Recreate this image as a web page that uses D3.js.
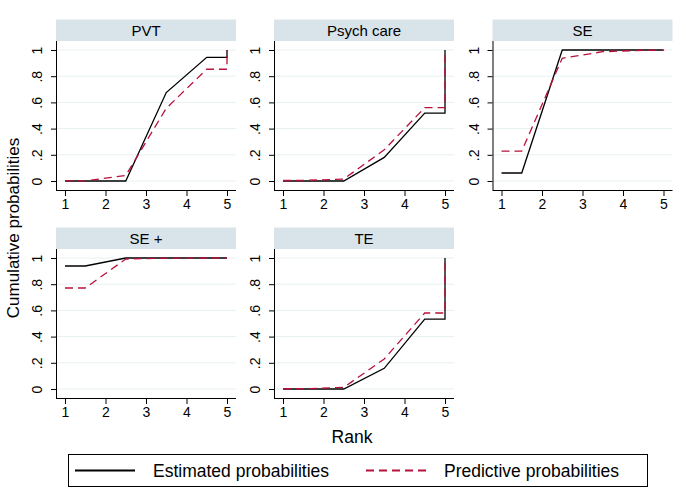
<!DOCTYPE html>
<html>
<head>
<meta charset="utf-8">
<script src="https://cdn.jsdelivr.net/npm/d3@7"></script>
<style>
  html, body { margin: 0; padding: 0; background: #fff; }
  svg { display: block; font-family: "Liberation Sans", Arial, sans-serif; }
</style>
</head>
<body>
<svg id="chart" width="686" height="504"></svg>
<script>
// ---- data ----
const treatments = ["PVT", "Psych care", "SE", "SE +", "TE"];
// cumulative probability P(rank <= k) for k = 1..4 (rank 5 is always 1)
const estimatedCum = [
  [0.00, 0.00, 0.675, 0.944],   // PVT
  [0.00, 0.00, 0.180, 0.518],   // Psych care
  [0.061, 1.00, 1.00, 1.00],    // SE
  [0.939, 1.00, 1.00, 1.00],    // SE +
  [0.00, 0.00, 0.158, 0.534]    // TE
];
const predictiveCum = [
  [0.001, 0.042, 0.555, 0.853],
  [0.004, 0.015, 0.238, 0.560],
  [0.228, 0.937, 0.987, 0.998],
  [0.771, 0.992, 0.999, 1.00],
  [0.002, 0.012, 0.229, 0.580]
];
const rankTicks = [1, 2, 3, 4, 5];
const probTicks = [0, 0.2, 0.4, 0.6, 0.8, 1];
const probTickLabels = ["0", ".2", ".4", ".6", ".8", "1"];
const seriesNames = ["Estimated probabilities", "Predictive probabilities"];
const seriesColors = ["#000000", "#b8103a"];
const seriesDash = [null, "8,5"];

// ---- layout ----
const svg = d3.select("#chart");
const colLeft = [56, 274, 492.5];
const rowTop = [19.5, 227.5];
const panelW = 180, headerH = 21.5, plotH = 149;
const pad = 9;

// build step path points from cumulative probs
function stepPoints(c) {
  return [
    [1, c[0]], [1.5, c[0]], [2.5, c[1]], [3.5, c[2]], [4.5, c[3]], [5, c[3]], [5, 1]
  ];
}

treatments.forEach((name, i) => {
  const col = i % 3, row = Math.floor(i / 3);
  const left = colLeft[col];
  const hTop = rowTop[row];
  const pTop = hTop + headerH;
  const pBot = pTop + plotH;
  const x = d3.scaleLinear().domain([1, 5]).range([left + pad, left + panelW - pad]);
  const y = d3.scaleLinear().domain([0, 1]).range([pBot - pad, pTop + pad]);

  const g = svg.append("g");

  // header strip
  g.append("rect").attr("x", left).attr("y", hTop).attr("width", panelW).attr("height", headerH)
    .attr("fill", "#d8e3ea");
  g.append("text").attr("x", left + panelW / 2).attr("y", hTop + headerH / 2 + 5.5)
    .attr("text-anchor", "middle").attr("font-size", 15).attr("fill", "#000").text(name);

  // gridlines
  g.append("g").selectAll("line").data(probTicks).join("line")
    .attr("x1", left).attr("x2", left + panelW)
    .attr("y1", d => y(d)).attr("y2", d => y(d))
    .attr("stroke", "#e8f0f2").attr("stroke-width", 1);

  // y axis
  const yAxis = d3.axisLeft(y).tickValues(probTicks).tickSize(5).tickPadding(4)
    .tickFormat((d, k) => probTickLabels[k]);
  const ya = g.append("g").attr("transform", `translate(${left},0)`).call(yAxis);
  ya.select(".domain").attr("d", `M0.5,${pTop}V${pBot}`).attr("stroke", "#000");
  ya.selectAll(".tick line").attr("stroke", "#000");
  ya.selectAll(".tick text")
    .attr("font-size", 14).attr("font-family", "Liberation Sans, Arial, sans-serif")
    .attr("fill", "#000")
    .attr("text-anchor", "middle").attr("dy", null)
    .attr("transform", "translate(-14,0) rotate(-90)")
    .attr("x", 0).attr("y", 0).attr("dominant-baseline", "auto");

  // x axis
  const xAxis = d3.axisBottom(x).tickValues(rankTicks).tickSize(6).tickPadding(3)
    .tickFormat(d3.format("d"));
  const xa = g.append("g").attr("transform", `translate(0,${pBot})`).call(xAxis);
  xa.select(".domain").attr("d", `M${left},0.5H${left + panelW}`).attr("stroke", "#000");
  xa.selectAll(".tick line").attr("stroke", "#000");
  xa.selectAll(".tick text").attr("font-size", 14)
    .attr("font-family", "Liberation Sans, Arial, sans-serif").attr("fill", "#000");

  // lines
  const line = d3.line().x(d => x(d[0])).y(d => y(d[1]));
  [estimatedCum[i], predictiveCum[i]].forEach((c, s) => {
    g.append("path").attr("d", line(stepPoints(c)))
      .attr("fill", "none").attr("stroke", seriesColors[s]).attr("stroke-width", 1.3)
      .attr("stroke-dasharray", seriesDash[s]);
  });
});

// axis titles
svg.append("text").attr("transform", "translate(19,228) rotate(-90)")
  .attr("text-anchor", "middle").attr("font-size", 17).text("Cumulative probabilities");
svg.append("text").attr("x", 352).attr("y", 443)
  .attr("text-anchor", "middle").attr("font-size", 17.5).text("Rank");

// legend
const lg = svg.append("g");
lg.append("rect").attr("x", 68.5).attr("y", 454.5).attr("width", 579).attr("height", 32)
  .attr("fill", "#fff").attr("stroke", "#000").attr("stroke-width", 1);
const legendX = [[75, 135, 153], [366, 430, 444]];
seriesNames.forEach((n, s) => {
  lg.append("line").attr("x1", legendX[s][0]).attr("x2", legendX[s][1])
    .attr("y1", 470.5).attr("y2", 470.5)
    .attr("stroke", seriesColors[s]).attr("stroke-width", 2)
    .attr("stroke-dasharray", seriesDash[s]);
  lg.append("text").attr("x", legendX[s][2]).attr("y", 476.5).attr("font-size", 17.5).text(n);
});
</script>
</body>
</html>
